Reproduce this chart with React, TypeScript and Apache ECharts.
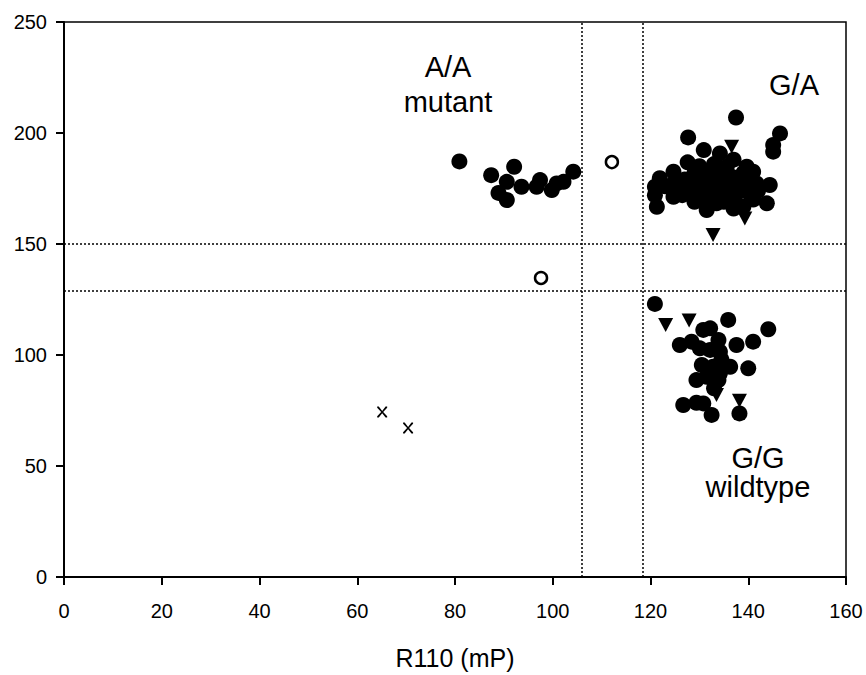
import React, { useEffect, useRef } from "react";
import * as echarts from "echarts";

const xTicks = [0, 20, 40, 60, 80, 100, 120, 140, 160];
const yTicks = [0, 50, 100, 150, 200, 250];

// filled circles
const filledCircles: number[][] = [
  // A/A mutant
  [80.9, 187.2], [87.4, 181], [92.1, 184.8], [90.6, 178], [88.9, 173], [90.6, 169.8],
  [93.6, 175.8], [97.4, 178.8], [96.7, 175.8], [99.8, 174.3], [100.8, 177.3], [102.2, 178], [104.2, 182.6],
  // G/A
  [137.5, 207], [127.7, 198], [146.5, 199.8], [145.1, 194.6], [145.1, 191.6], [130.9, 192.3],
  [134.2, 190.8], [127.6, 186.8], [121.9, 179.6], [124.7, 182.6], [120.9, 175.8], [120.9, 172],
  [121.3, 166.8], [124.7, 171.3], [126, 176.6], [128.8, 175.8], [131.5, 180.3], [131.5, 165.3],
  [133.2, 171.3], [135.6, 177.3], [135.6, 184.8], [138.3, 175.8], [139.7, 184.8], [141, 182.6],
  [141.7, 177.3], [144.4, 176.6], [143.8, 168.3], [139, 166.8], [130.1, 174.3], [136.9, 171.3],
  [133.5, 168.3], [128.1, 174.3], [130.8, 178], [139.7, 173.6], [136.6, 180.3], [133, 186],
  [137, 188], [131.5, 176], [134.5, 174], [141, 170], [126.5, 172], [135, 182],
  [129, 182], [132, 183], [134, 176], [136, 174], [138, 179], [140, 178], [127, 179],
  [131, 170], [135, 169], [137, 166], [142, 174], [129, 169], [123, 176], [125, 178],
  [133, 179], [139, 182], [132.5, 172.5], [137.5, 176.5], [130, 185],
  // G/G wildtype
  [120.9, 123], [132.2, 112], [130.8, 111.3], [135.9, 115.8], [144.1, 111.6], [126, 104.5],
  [128.4, 106], [133.9, 106.8], [137.6, 104.5], [141, 106], [130.1, 103], [132.2, 102.3],
  [134.2, 101.5], [130.5, 95.5], [132.8, 94.7], [136.3, 94.7], [140, 94], [134.2, 91.8],
  [129.4, 88.7], [131.5, 90.2], [133.9, 88.7], [126.7, 77.5], [129.4, 78.5], [130.8, 78.2],
  [138.2, 73.7], [132.5, 73], [134.5, 98], [133, 85],
];

// filled down-triangles
const triangles: number[][] = [
  [136.6, 193.8], [139.3, 161.5], [132.8, 154], [134, 178], [138, 170],
  [123.1, 113.5], [127.9, 115.5], [133.5, 82], [138.2, 79.4],
];

// open circles
const openCircles: number[][] = [
  [112.1, 186.9], [97.6, 134.7],
];

// crosses
const crosses: number[][] = [
  [65.1, 74.3], [70.4, 67.1],
];

const vLines = [106, 118.5];
const hLines = [150, 129];

const xTitle = "R110 (mP)";

const crossPath =
  "path://M0,0 L1.6,0 L5,4 L8.4,0 L10,0 L10,1.2 L6,5 L10,8.8 L10,10 L8.4,10 L5,6 L1.6,10 L0,10 L0,8.8 L4,5 L0,1.2 Z";
const triPath = "path://M0,0 L10,0 L5,9 Z";

const FONT = "Arial";

function label(text: string, x: number, y: number) {
  return {
    type: "text",
    x,
    y,
    style: {
      text,
      fontSize: 29,
      fontFamily: FONT,
      fill: "#000",
      align: "center",
      textAlign: "center",
      verticalAlign: "top",
      textVerticalAlign: "top",
    },
  };
}

export default function App() {
  const ref = useRef<HTMLDivElement>(null);
  useEffect(() => {
    if (!ref.current) return;
    const chart = echarts.init(ref.current, null, { renderer: "svg" });
    chart.setOption({
      animation: false,
      backgroundColor: "#ffffff",
      grid: {
        left: 64,
        right: 20,
        top: 22,
        bottom: 98,
        show: true,
        borderColor: "#000",
        borderWidth: 1.5,
      },
      xAxis: {
        type: "value",
        min: 0,
        max: 160,
        interval: 20,
        splitLine: { show: false },
        axisLine: { show: true, onZero: false, lineStyle: { color: "#000", width: 2 } },
        axisTick: { show: true, length: 8, inside: false, lineStyle: { color: "#000", width: 2 } },
        axisLabel: {
          color: "#000",
          fontSize: 20,
          fontFamily: FONT,
          margin: 24,
          formatter: (v: number) => (xTicks.includes(v) ? String(v) : ""),
        },
        name: xTitle,
        nameLocation: "middle",
        nameGap: 68,
        nameTextStyle: { color: "#000", fontSize: 25, fontFamily: FONT },
      },
      yAxis: {
        type: "value",
        min: 0,
        max: 250,
        interval: 50,
        splitLine: { show: false },
        axisLine: { show: true, onZero: false, lineStyle: { color: "#000", width: 2 } },
        axisTick: { show: true, length: 8, inside: false, lineStyle: { color: "#000", width: 2 } },
        axisLabel: {
          color: "#000",
          fontSize: 20,
          fontFamily: FONT,
          margin: 17,
          formatter: (v: number) => (yTicks.includes(v) ? String(v) : ""),
        },
      },
      series: [
        {
          type: "scatter",
          data: filledCircles,
          symbol: "circle",
          symbolSize: 16,
          itemStyle: { color: "#000", opacity: 1 },
          markLine: {
            silent: true,
            symbol: ["none", "none"],
            label: { show: false },
            lineStyle: { color: "#000", width: 1.5, type: [2, 2] },
            data: [
              ...vLines.map((v) => [{ coord: [v, 0] }, { coord: [v, 250] }]),
              ...hLines.map((v) => [{ coord: [0, v] }, { coord: [160, v] }]),
            ],
          },
        },
        {
          type: "scatter",
          data: triangles,
          symbol: triPath,
          symbolSize: [15, 14],
          itemStyle: { color: "#000", opacity: 1 },
        },
        {
          type: "scatter",
          data: openCircles,
          symbol: "circle",
          symbolSize: 12,
          itemStyle: { color: "#fff", borderColor: "#000", borderWidth: 2.5, opacity: 1 },
        },
        {
          type: "scatter",
          data: crosses,
          symbol: crossPath,
          symbolSize: [10, 11],
          itemStyle: { color: "#000", opacity: 1 },
        },
      ],
      graphic: [
        label("A/A", 448, 52),
        label("mutant", 448, 87),
        label("G/A", 794, 70),
        label("G/G", 758, 443),
        label("wildtype", 758, 472),
      ],
    });
    return () => chart.dispose();
  }, []);
  return <div ref={ref} style={{ width: 866, height: 675, position: "absolute", left: 0, top: 0 }} />;
}
